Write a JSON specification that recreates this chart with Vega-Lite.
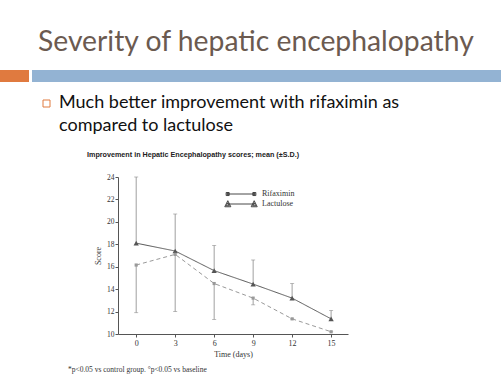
{
  "$schema": "https://vega.github.io/schema/vega-lite/v6.json",
  "background": "white",
  "padding": {"left": 0, "top": 27, "right": 0, "bottom": 0},
  "config": {"view": {"stroke": null}},
  "title": {"text": "Severity of hepatic encephalopathy", "anchor": "start", "dx": 38, "fontSize": 28.3, "font": "Lato", "fontWeight": "normal", "color": "#6b5a50", "offset": 13},
  "spacing": 12,
  "vconcat": [
    {
      "spacing": 3,
      "hconcat": [
        {"width": 29, "height": 12, "data": {"values": [{}]}, "mark": {"type": "rect", "color": "#e07a3f"}},
        {"width": 469, "height": 12, "data": {"values": [{}]}, "mark": {"type": "rect", "color": "#93b3d3"}}
      ]
    },
    {
      "spacing": 8,
      "hconcat": [
        {"width": 34, "height": 1, "data": {"values": [{}]}, "mark": {"type": "rect", "opacity": 0}},
        {
          "width": 7, "height": 7,
          "data": {"values": [{}]},
          "mark": {"type": "rect", "filled": false, "stroke": "#e07a3f", "strokeWidth": 1, "fill": "white"}
        },
        {
          "width": 1, "height": 1,
          "data": {"values": [{}]},
          "mark": {"type": "rect", "opacity": 0},
          "title": {"text": ["Much better improvement with rifaximin as", "compared to lactulose"], "subtitle": " ", "subtitleFontSize": 1, "subtitlePadding": 2, "orient": "bottom", "anchor": "start", "frame": "group", "font": "Lato", "fontSize": 18, "fontWeight": "normal", "color": "#111111", "lineHeight": 23, "offset": 0, "dy": -7}
        }
      ]
    },
    {
      "spacing": 0,
      "title": {"text": "Improvement in Hepatic Encephalopathy scores; mean (\u00b1S.D.)", "anchor": "start", "dx": 87, "font": "Liberation Sans", "fontSize": 7.2, "fontWeight": "bold", "color": "#222222", "offset": 15},
      "hconcat": [
        {"width": 68, "height": 1, "data": {"values": [{}]}, "mark": {"type": "rect", "opacity": 0}},
        {
          "width": 230,
          "height": 157,
          "title": {"text": "*p<0.05 vs control group. \u00b0p<0.05 vs baseline", "orient": "bottom", "anchor": "start", "frame": "group", "dx": -50, "font": "Liberation Serif", "fontSize": 7.5, "fontWeight": "normal", "color": "#333333", "offset": 8},
          "data": {"values": [
            {"day": 0, "group": "Lactulose", "mean": 18.1, "lo": 18.1, "hi": 24.0},
            {"day": 3, "group": "Lactulose", "mean": 17.4, "lo": 17.4, "hi": 20.7},
            {"day": 6, "group": "Lactulose", "mean": 15.65, "lo": 15.65, "hi": 17.9},
            {"day": 9, "group": "Lactulose", "mean": 14.45, "lo": 14.45, "hi": 16.6},
            {"day": 12, "group": "Lactulose", "mean": 13.2, "lo": 13.2, "hi": 14.5},
            {"day": 15, "group": "Lactulose", "mean": 11.35, "lo": 11.35, "hi": 12.1},
            {"day": 0, "group": "Rifaximin", "mean": 16.15, "lo": 11.9, "hi": 16.15},
            {"day": 3, "group": "Rifaximin", "mean": 17.1, "lo": 12.0, "hi": 17.1},
            {"day": 6, "group": "Rifaximin", "mean": 14.5, "lo": 11.3, "hi": 14.5},
            {"day": 9, "group": "Rifaximin", "mean": 13.2, "lo": 12.6, "hi": 13.2},
            {"day": 12, "group": "Rifaximin", "mean": 11.35, "lo": 11.35, "hi": 11.35},
            {"day": 15, "group": "Rifaximin", "mean": 10.2, "lo": 10.2, "hi": 10.2}
          ]},
          "encoding": {
            "x": {"field": "day", "type": "quantitative", "scale": {"domain": [-1.4, 16.3], "nice": false, "zero": false},
              "axis": {"values": [0, 3, 6, 9, 12, 15], "title": "Time (days)", "grid": false, "domainColor": "#555555", "tickColor": "#555555", "tickSize": 3, "labelFont": "Liberation Serif", "labelFontSize": 8, "labelColor": "#333333", "labelPadding": 2, "titleFont": "Liberation Serif", "titleFontSize": 8, "titleFontWeight": "normal", "titleColor": "#333333", "titlePadding": 3}},
            "y": {"field": "mean", "type": "quantitative", "scale": {"domain": [10, 24], "nice": false, "zero": false},
              "axis": {"values": [10, 12, 14, 16, 18, 20, 22, 24], "labelOverlap": false, "title": "Score", "grid": false, "domainColor": "#555555", "tickColor": "#555555", "tickSize": 3, "labelFont": "Liberation Serif", "labelFontSize": 7.5, "labelColor": "#333333", "labelPadding": 1, "titleFont": "Liberation Serif", "titleFontSize": 8, "titleFontWeight": "normal", "titleColor": "#333333", "titlePadding": 4}}
          },
          "layer": [
            {
              "mark": {"type": "rule", "color": "#888888", "strokeWidth": 0.8},
              "encoding": {
                "y": {"field": "lo", "type": "quantitative"},
                "y2": {"field": "hi"}
              }
            },
            {
              "transform": [{"filter": "datum.group === 'Lactulose'"}],
              "mark": {"type": "tick", "orient": "horizontal", "color": "#888888", "size": 4, "thickness": 0.8},
              "encoding": {"y": {"field": "hi", "type": "quantitative"}}
            },
            {
              "transform": [{"filter": "datum.group === 'Rifaximin'"}],
              "mark": {"type": "tick", "orient": "horizontal", "color": "#888888", "size": 4, "thickness": 0.8},
              "encoding": {"y": {"field": "lo", "type": "quantitative"}}
            },
            {
              "mark": {"type": "line", "strokeWidth": 1},
              "encoding": {
                "color": {"field": "group", "type": "nominal", "scale": {"domain": ["Rifaximin", "Lactulose"], "range": ["#999999", "#555555"]}, "legend": null},
                "strokeDash": {"field": "group", "type": "nominal", "scale": {"domain": ["Rifaximin", "Lactulose"], "range": [[4, 3], [1, 0]]}, "legend": null}
              }
            },
            {
              "mark": {"type": "point", "filled": true, "opacity": 1},
              "encoding": {
                "color": {"field": "group", "type": "nominal", "legend": null},
                "shape": {"field": "group", "type": "nominal", "scale": {"domain": ["Rifaximin", "Lactulose"], "range": ["square", "triangle-up"]}, "legend": null},
                "size": {"field": "group", "type": "nominal", "scale": {"domain": ["Rifaximin", "Lactulose"], "range": [10, 28]}, "legend": null}
              }
            },
            {
              "mark": {"type": "point", "filled": false, "opacity": 0, "size": 121, "color": "#333333", "strokeWidth": 0.9},
              "encoding": {
                "shape": {"field": "group", "type": "nominal", "title": null,
                  "scale": {"domain": ["Rifaximin", "Lactulose"], "range": [
                    "M-2.7,-0.27h0.55v0.55h-0.55Z M-2.55,-0.12h0.25v0.25h-0.25Z M-2.4,0L2.4,0 M2.15,-0.27h0.55v0.55h-0.55Z M2.3,-0.12h0.25v0.25h-0.25Z",
                    "M-2.95,0.5L-2.4,-0.6L-1.85,0.5Z M-2.675,0.315L-2.4,-0.235L-2.125,0.315Z M-2.4,0L2.4,0 M1.85,0.5L2.4,-0.6L2.95,0.5Z M2.125,0.315L2.4,-0.235L2.675,0.315Z"]},
                  "legend": {"orient": "none", "legendX": 117, "legendY": 11, "padding": 0, "rowPadding": 0, "symbolSize": 121, "symbolStrokeColor": "#333333", "symbolStrokeWidth": 0.9, "symbolOpacity": 1, "labelOffset": 15, "labelFont": "Liberation Serif", "labelFontSize": 8, "labelColor": "#333333"}}
              }
            }
          ],
          "resolve": {"scale": {"shape": "independent", "size": "independent"}}
        }
      ]
    }
  ]
}
